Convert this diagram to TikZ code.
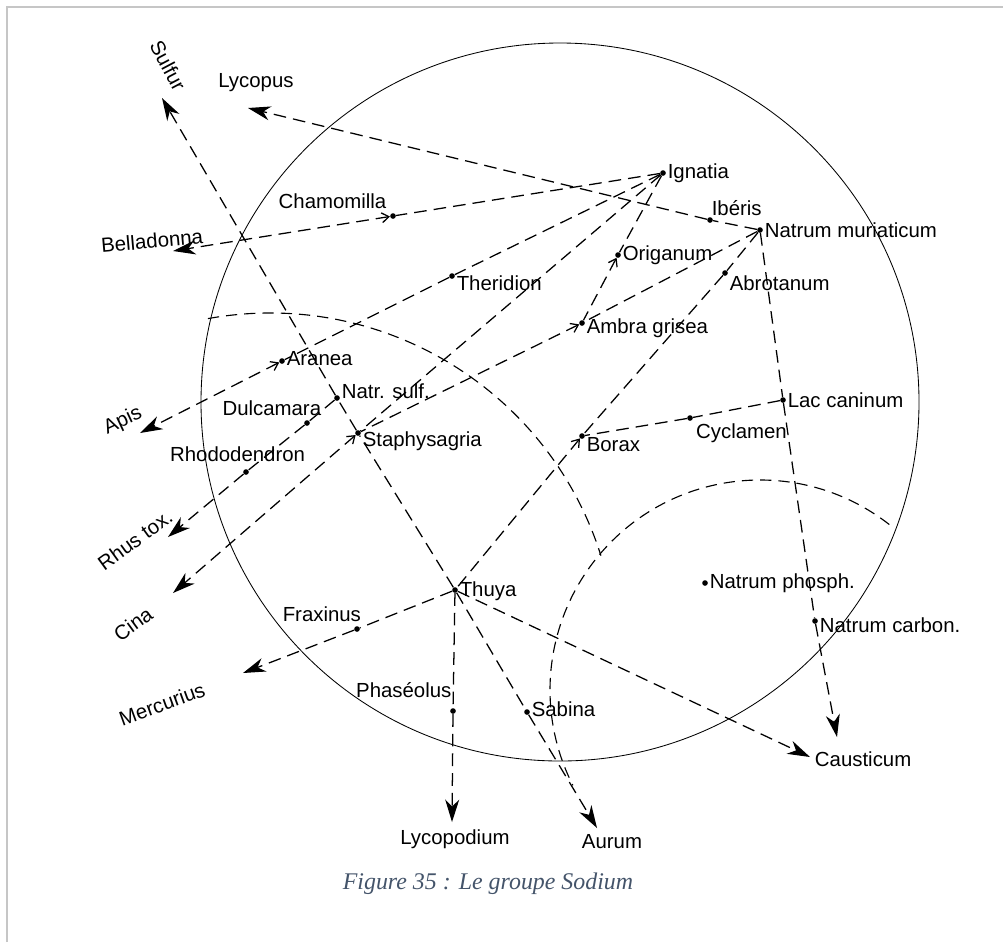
\documentclass[tikz,border=0pt]{standalone}
\usepackage{fontspec}
\setmainfont{Liberation Sans}
\newfontfamily\capfont{Liberation Serif}
\usetikzlibrary{arrows.meta}
\definecolor{capblue}{HTML}{44546A}

\begin{document}
\begin{tikzpicture}[x=0.025cm,y=-0.025cm,
  font=\fontsize{14.5}{16}\selectfont,
  dot/.style={circle,fill,inner sep=0pt,minimum size=4pt},
  link/.style={line width=0.9pt,dash pattern=on 9pt off 5pt},
  zone/.style={line width=0.8pt,dash pattern=on 8pt off 5pt},
  big/.style={-{Stealth[length=16pt,width=10pt,inset=5pt]}},
  small/.style={{Straight Barb[length=5pt,width=7pt]}-},
  smallbig/.style={{Straight Barb[length=5pt,width=7pt]}-{Stealth[length=16pt,width=10pt,inset=5pt]}},
  lab/.style={inner sep=1pt}]
  \useasboundingbox (0,0) rectangle (1003,942);
  \draw[gray!45,line width=2pt] (7,942) -- (7,7) -- (1003,7);

  % the circle and the two zones
  \coordinate (c) at (560,402);
  \draw[line width=0.6pt] (c) circle[radius=359];
  \coordinate (z1) at (270,660);
  \draw[zone] (z1) ++(-100.3:347) arc[start angle=-100.3,end angle=-17.5,radius=347];
  \coordinate (z2) at (760,690);
  \draw[zone] (z2) ++(-52:210) arc[start angle=-52,end angle=-207,radius=210];

  % remedies inside
  \node[dot,label={[lab]right:Ignatia}] (ign) at (663,173) {};
  \node[dot,label={[lab]right:Natrum muriaticum}] (natmur) at (760,230) {};
  \node[dot,label={[lab,xshift=19pt]above:Ibéris}] (iberis) at (710,220) {};
  \node[dot,label={[lab]right:Origanum}] (orig) at (618,255) {};
  \node[dot,label={[lab,yshift=-7pt]right:Abrotanum}] (abrot) at (725,273) {};
  \node[dot,label={[lab,xshift=-43pt,yshift=2pt]above:Chamomilla}] (cham) at (393,216) {};
  \node[dot,label={[lab,yshift=-5pt]right:Theridion}] (therid) at (452,276) {};
  \node[dot,label={[lab,yshift=-4pt]right:Ambra grisea}] (ambra) at (582,323) {};
  \node[dot,label={[lab,yshift=2pt]right:Aranea}] (aranea) at (282,361) {};
  \node[dot,label={[lab,yshift=5pt]right:Natr. sulf.}] (nsulf) at (337,398) {};
  \node[dot,label={[lab,xshift=-25pt,yshift=2pt]above:Dulcamara}] (dulc) at (307,423) {};
  \node[dot,label={[lab,xshift=-6pt,yshift=4pt]above:Rhododendron}] (rhodo) at (246,472) {};
  \node[dot,label={[lab,yshift=-6pt]right:Staphysagria}] (staph) at (358,433) {};
  \node[dot,label={[lab,yshift=-6pt]right:Borax}] (borax) at (582,436) {};
  \node[dot,label={[lab,xshift=1pt,yshift=-3pt,anchor=north west]right:Cyclamen}] (cycl) at (690,418) {};
  \node[dot,label={[lab]right:Lac caninum}] (lac) at (783,400) {};
  \node[dot,label={[lab,yshift=-1pt]right:Thuya}] (thuya) at (455,590) {};
  \node[dot,label={[lab,xshift=-25pt,yshift=2pt]above:Fraxinus}] (frax) at (357,629) {};
  \node[dot,label={[lab,xshift=-35pt,yshift=6pt]above:Phaséolus}] (phas) at (453,711) {};
  \node[dot,label={[lab,yshift=2pt]right:Sabina}] (sabina) at (527,712) {};
  \node[dot,label={[lab]right:Natrum phosph.}] (nphos) at (705,583) {};
  \node[dot,label={[lab,yshift=-3pt]right:Natrum carbon.}] (ncarb) at (815,621) {};

  % remedies outside
  \node[rotate=-62] (sulfur) at (168,66) {Sulfur};
  \node (lycopus) at (256,83) {Lycopus};
  \node[rotate=5] (bella) at (152,241) {Belladonna};
  \node[rotate=25] (apis) at (123,421) {Apis};
  \node[rotate=36] (rhus) at (135,540) {Rhus tox.};
  \node[rotate=36] (cina) at (133,624) {Cina};
  \node[rotate=20] (merc) at (162,704) {Mercurius};
  \node (lycpd) at (455,839) {Lycopodium};
  \node (aurum) at (612,842) {Aurum};
  \node[anchor=west] (caust) at (810,759) {Causticum};
  \coordinate (sulfur-tip) at (162,98);
  \coordinate (lycopus-tip) at (248,108);
  \coordinate (bella-tip) at (173,251);
  \coordinate (apis-tip) at (140,433);
  \coordinate (rhus-tip) at (168,537);
  \coordinate (cina-tip) at (173,593);
  \coordinate (merc-tip) at (243,673);
  \coordinate (lycpd-tip) at (452,822);
  \coordinate (aurum-tip) at (597,828);
  \coordinate (caust-tip) at (810,757);
  \coordinate (caust-tip2) at (837,737);

  % connections
  \draw[link,big] (thuya) -- (staph) -- (nsulf) -- (sulfur-tip);
  \draw[link,big] (natmur) -- (iberis) -- (lycopus-tip);
  \draw[link,smallbig] (ign) -- (cham) -- (bella-tip);
  \draw[link,smallbig] (ign) -- (therid) -- (aranea) -- (apis-tip);
  \draw[link,smallbig] (ign) -- (staph) -- (cina-tip);
  \draw[link,small] (ign) -- (orig) -- (ambra);
  \draw[link,small] (natmur) -- (ambra) -- (staph);
  \draw[link,small] (natmur) -- (abrot) -- (borax) -- (thuya);
  \draw[link,big] (nsulf) -- (dulc) -- (rhodo) -- (rhus-tip);
  \draw[link] (lac) -- (cycl) -- (borax);
  \draw[link,big] (natmur) -- (lac) -- (ncarb) -- (caust-tip2);
  \draw[link,big] (thuya) -- (frax) -- (merc-tip);
  \draw[link,big] (thuya) -- (phas) -- (lycpd-tip);
  \draw[link,big] (thuya) -- (sabina) -- (aurum-tip);
  \draw[link,big] (thuya) -- (caust-tip);

  \node[font=\capfont\itshape\fontsize{17}{20}\selectfont,text=capblue] (caption) at (488,884) {Figure 35 : Le groupe Sodium};
\end{tikzpicture}
\end{document}
